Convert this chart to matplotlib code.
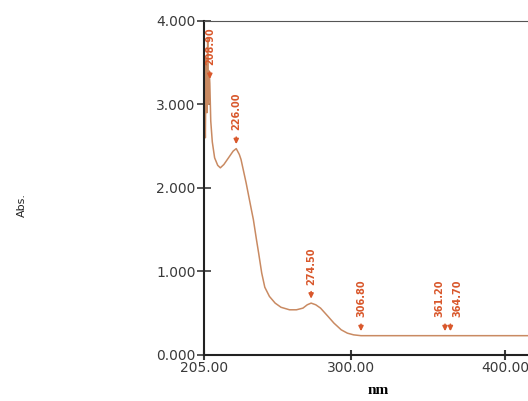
import numpy as np
import matplotlib.pyplot as plt

# UV-Vis absorbance spectrum (wavelength in nm, absorbance)
wavelength = [205.0, 205.5, 206.0, 206.5, 207.0, 207.5, 208.0, 208.5, 208.9,
              209.5, 210.5, 212.0, 214.0, 215.7, 218.0, 221.0, 224.0, 226.0,
              228.0, 229.1, 232.4, 235.8, 237.1, 239.1, 240.5, 242.5, 244.5,
              247.5, 251.2, 255.0, 260.5, 265.0, 269.2, 272.0, 274.5, 277.5,
              280.6, 285.0, 289.3, 294.0, 298.0, 302.0, 306.8, 320.0, 340.0,
              361.2, 364.7, 380.0, 400.0, 420.0]
absorbance = [2.35, 3.05, 2.60, 3.55, 2.90, 3.80, 3.00, 3.40, 3.25,
              2.80, 2.55, 2.36, 2.27, 2.24, 2.28, 2.36, 2.44, 2.47,
              2.40, 2.34, 2.06, 1.74, 1.62, 1.38, 1.22, 0.98, 0.81,
              0.70, 0.62, 0.57, 0.54, 0.54, 0.56, 0.60, 0.62, 0.60,
              0.56, 0.47, 0.38, 0.30, 0.26, 0.24, 0.23, 0.23, 0.23,
              0.23, 0.23, 0.23, 0.23, 0.23]

# picked peaks
peak_nm = [208.9, 226.0, 274.5, 306.8, 361.2, 364.7]
peak_labels = ["208.90", "226.00", "274.50", "306.80", "361.20", "364.70"]
# sideways nudge (points) so close peak labels stay readable
peak_nudge = [0, 0, 0, 0, -4, 5]

y_ticks = [0, 1, 2, 3, 4]
y_ticklabels = ["0.000", "1.000", "2.000", "3.000", "4.000"]
x_ticks = [205, 300, 400]
x_ticklabels = ["205.00", "300.00", "400.00"]

line_color = "#c98a62"
peak_color = "#d9582c"

fig = plt.figure(figsize=(5.28, 4.01), dpi=100)
ax = fig.add_axes([0.386, 0.115, 0.62, 0.833])

ax.plot(wavelength, absorbance, color=line_color, lw=1.1)

# peak markers: small arrow pointing down at the curve plus rotated value
for nm, lab, dx in zip(peak_nm, peak_labels, peak_nudge):
    a = np.interp(nm, wavelength, absorbance)
    ax.annotate("", xy=(nm, a + 0.02), xytext=(nm, a + 0.17),
                arrowprops=dict(arrowstyle="-|>", color=peak_color, lw=1.2,
                                mutation_scale=7))
    ax.annotate(lab, xy=(nm, a + 0.22), xytext=(dx, 0),
                textcoords="offset points", rotation=90, ha="center",
                va="bottom", fontsize=7, color=peak_color, fontweight="bold")

ax.set_xlim(205, 417)
ax.set_ylim(0, 4)

ax.set_yticks(y_ticks)
ax.set_yticklabels(y_ticklabels)
ax.set_xticks(x_ticks)
ax.set_xticklabels(x_ticklabels)
ax.tick_params(axis="y", direction="inout", length=10, width=1.2,
               labelsize=10, colors="#3a3a3a", pad=1)
ax.tick_params(axis="x", direction="inout", length=7, width=1.5,
               labelsize=10, colors="#3a3a3a", pad=1)

for side in ["left", "bottom"]:
    ax.spines[side].set_linewidth(1.5)
    ax.spines[side].set_color("#222222")
ax.spines["top"].set_linewidth(0.8)
ax.spines["top"].set_color("#555555")
ax.spines["right"].set_visible(False)

fig.text(0.042, 0.49, "Abs.", rotation=90, ha="center", va="center",
         fontsize=8, color="#222222")
fig.text(0.716, 0.027, "nm", ha="center", va="center", fontsize=11,
         fontweight="bold", family="Liberation Serif")

fig.savefig("out.png", dpi=100)
